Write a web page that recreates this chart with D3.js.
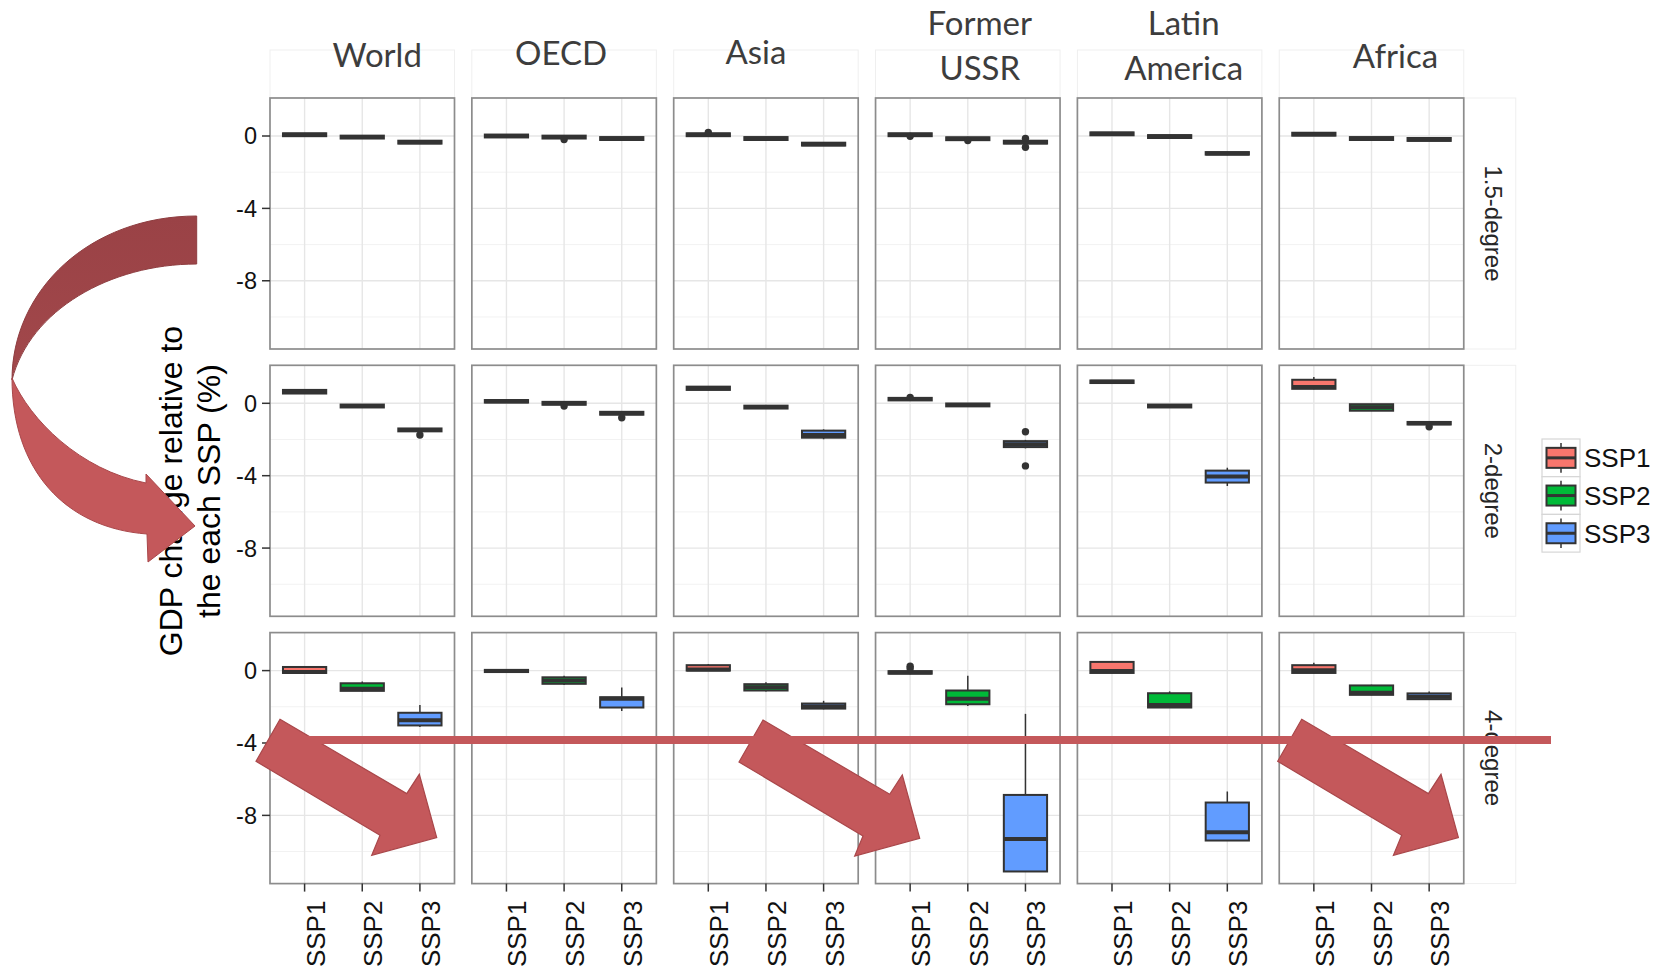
<!DOCTYPE html>
<html>
<head>
<meta charset="utf-8">
<script src="https://cdn.jsdelivr.net/npm/d3@7"></script>
<style>
  html, body { margin: 0; padding: 0; background: #ffffff; }
  svg { display: block; }
</style>
</head>
<body>
<svg id="chart" width="1656" height="971"></svg>
<script>
// ---------------- data ----------------
const regions = ["World", "OECD", "Asia", "Former USSR", "Latin America", "Africa"];
const regionLines = [["World"], ["OECD"], ["Asia"], ["Former", "USSR"], ["Latin", "America"], ["Africa"]];
const scenarios = ["1.5-degree", "2-degree", "4-degree"];
const ssps = ["SSP1", "SSP2", "SSP3"];
const yTicks = [0, -4, -8];
const yMinorTicks = [-2, -6, -10];
const sspColors = ["#F8766D", "#00BA38", "#619CFF"];

// GDP change (%) box summaries: [lower whisker, Q1, median, Q3, upper whisker]
// one row per region, one entry per SSP
const box15 = [
  [[-0.02, -0.01, 0.07, 0.15, 0.16], [-0.16, -0.14, -0.06, 0.02, 0.03], [-0.44, -0.42, -0.34, -0.26, -0.25]],
  [[-0.09, -0.08, 0.00, 0.08, 0.09], [-0.16, -0.14, -0.06, 0.02, 0.03], [-0.24, -0.22, -0.14, -0.06, -0.05]],
  [[-0.03, -0.01, 0.07, 0.15, 0.16], [-0.24, -0.22, -0.14, -0.06, -0.05], [-0.55, -0.53, -0.45, -0.37, -0.36]],
  [[-0.03, -0.01, 0.07, 0.15, 0.16], [-0.25, -0.23, -0.15, -0.07, -0.06], [-0.44, -0.42, -0.34, -0.26, -0.25]],
  [[0.03, 0.04, 0.12, 0.20, 0.21], [-0.12, -0.11, -0.03, 0.05, 0.06], [-1.06, -1.03, -0.97, -0.89, -0.88]],
  [[0.01, 0.02, 0.10, 0.18, 0.19], [-0.23, -0.22, -0.14, -0.06, -0.05], [-0.28, -0.27, -0.19, -0.11, -0.10]]
];
const box2 = [
  [[0.52, 0.54, 0.64, 0.74, 0.76], [-0.24, -0.23, -0.15, -0.07, -0.06], [-1.56, -1.55, -1.47, -1.39, -1.38]],
  [[0.03, 0.04, 0.11, 0.18, 0.19], [-0.09, -0.08, 0.00, 0.08, 0.09], [-0.64, -0.63, -0.55, -0.47, -0.46]],
  [[0.73, 0.74, 0.83, 0.92, 0.93], [-0.30, -0.29, -0.21, -0.13, -0.12], [-1.99, -1.90, -1.75, -1.51, -1.44]],
  [[0.15, 0.16, 0.24, 0.30, 0.31], [-0.18, -0.17, -0.09, -0.01, 0.00], [-2.49, -2.42, -2.26, -2.09, -2.02]],
  [[1.11, 1.12, 1.19, 1.26, 1.27], [-0.24, -0.23, -0.15, -0.07, -0.06], [-4.57, -4.38, -4.05, -3.72, -3.56]],
  [[0.78, 0.80, 0.90, 1.30, 1.45], [-0.43, -0.41, -0.22, -0.05, -0.04], [-1.18, -1.17, -1.10, -1.03, -1.02]]
];
const box4 = [
  [[-0.15, -0.13, -0.08, 0.20, 0.22], [-1.15, -1.12, -1.00, -0.70, -0.60], [-3.12, -3.03, -2.75, -2.33, -1.90]],
  [[-0.10, -0.08, -0.02, 0.04, 0.06], [-0.79, -0.73, -0.55, -0.37, -0.28], [-2.23, -2.04, -1.55, -1.47, -0.94]],
  [[-0.02, 0.00, 0.06, 0.30, 0.36], [-1.16, -1.10, -0.92, -0.75, -0.64], [-2.14, -2.10, -1.98, -1.82, -1.67]],
  [[-0.20, -0.17, -0.10, -0.03, 0.00], [-1.95, -1.86, -1.55, -1.10, -0.29], [-11.10, -11.10, -9.30, -6.87, -2.39]],
  [[-0.14, -0.13, -0.02, 0.48, 0.50], [-2.06, -2.04, -1.90, -1.25, -1.15], [-9.40, -9.39, -8.93, -7.29, -6.68]],
  [[-0.15, -0.13, 0.02, 0.30, 0.44], [-1.36, -1.34, -1.22, -0.82, -0.78], [-1.60, -1.58, -1.44, -1.26, -1.16]]
];
// outlying model results beyond the whiskers
const out15 = [
  [[], [], []],
  [[], [-0.20], []],
  [[0.20], [], []],
  [[-0.02], [-0.25], [-0.13, -0.62]],
  [[], [], []],
  [[], [], []]
];
const out2 = [
  [[], [], [-1.75]],
  [[], [-0.15], [-0.80]],
  [[], [], []],
  [[0.33], [], [-1.57, -3.46]],
  [[], [], []],
  [[], [], [-1.30]]
];
const out4 = [
  [[], [], []],
  [[], [], []],
  [[], [], []],
  [[0.24, 0.12], [], []],
  [[], [], []],
  [[], [], []]
];
const boxSets = [box15, box2, box4];
const outSets = [out15, out2, out4];

// ---------------- layout ----------------
const panelX0 = 270, colPitch = 201.85, panelW = 184.5;
const panelY0 = 98, rowPitch = 267.3, panelH = 251;
const yDomain = [-11.77, 2.1];
const stripLabelDx = [15, -3, -10, 12, 14, 24];
const stripBaselines = [[66.5], [65], [64], [35, 80], [35, 80], [68]];

const FONT_R = "'Liberation Sans', Arial, Helvetica, sans-serif";
const FONT_STRIP = "Lato, 'Open Sans', sans-serif";
const DARK = "#333333";

const svg = d3.select("#chart");

const y = d3.scaleLinear().domain(yDomain).range([panelH, 0]);
const x = d3.scalePoint().domain(ssps).range([0, panelW]).padding(0.6);
const boxW = x.step() * 0.75;

// top strips (region names)
regions.forEach((reg, c) => {
  const left = panelX0 + c * colPitch;
  svg.append("rect")
    .attr("x", left).attr("y", 50).attr("width", panelW).attr("height", 48)
    .attr("fill", "none").attr("stroke", "#efefef").attr("stroke-width", 1);
  const t = svg.append("text")
    .attr("font-family", FONT_STRIP).attr("font-size", 33).attr("fill", "#3d3d3d")
    .attr("text-anchor", "middle");
  regionLines[c].forEach((ln, i) => {
    t.append("tspan")
      .attr("x", left + panelW / 2 + stripLabelDx[c])
      .attr("y", stripBaselines[c][i])
      .text(ln);
  });
});

// right strips (warming levels)
scenarios.forEach((sc, r) => {
  const top = panelY0 + r * rowPitch;
  const sx = panelX0 + 5 * colPitch + panelW;
  svg.append("rect")
    .attr("x", sx).attr("y", top).attr("width", 52).attr("height", panelH)
    .attr("fill", "none").attr("stroke", "#efefef").attr("stroke-width", 1);
  svg.append("text")
    .attr("transform", `translate(${sx + 21},${top + panelH / 2}) rotate(90)`)
    .attr("text-anchor", "middle")
    .attr("font-family", FONT_R).attr("font-size", 24).attr("fill", "#262626")
    .text(sc);
});

// panels
scenarios.forEach((sc, r) => {
  regions.forEach((reg, c) => {
    const g = svg.append("g")
      .attr("transform", `translate(${panelX0 + c * colPitch},${panelY0 + r * rowPitch})`);
    g.append("rect").attr("width", panelW).attr("height", panelH).attr("fill", "#ffffff");

    // grid
    g.selectAll(".gminor").data(yMinorTicks).join("line")
      .attr("x1", 0).attr("x2", panelW)
      .attr("y1", d => y(d)).attr("y2", d => y(d))
      .attr("stroke", "#f2f2f2").attr("stroke-width", 1);
    g.selectAll(".gmajor").data(yTicks).join("line")
      .attr("x1", 0).attr("x2", panelW)
      .attr("y1", d => y(d)).attr("y2", d => y(d))
      .attr("stroke", "#e6e6e6").attr("stroke-width", 1.4);
    g.selectAll(".gx").data(ssps).join("line")
      .attr("x1", d => x(d)).attr("x2", d => x(d))
      .attr("y1", 0).attr("y2", panelH)
      .attr("stroke", "#e6e6e6").attr("stroke-width", 1.4);

    // boxplots
    const stats = boxSets[r][c];
    const outs = outSets[r][c];
    ssps.forEach((s, k) => {
      const [lo, q1, med, q3, hi] = stats[k];
      const cx = x(s);
      g.append("line")
        .attr("x1", cx).attr("x2", cx).attr("y1", y(hi)).attr("y2", y(lo))
        .attr("stroke", DARK).attr("stroke-width", 1.5);
      g.append("rect")
        .attr("x", cx - boxW / 2).attr("width", boxW)
        .attr("y", y(q3)).attr("height", Math.max(0.5, y(q1) - y(q3)))
        .attr("fill", sspColors[k]).attr("stroke", DARK).attr("stroke-width", 2);
      g.append("line")
        .attr("x1", cx - boxW / 2).attr("x2", cx + boxW / 2)
        .attr("y1", y(med)).attr("y2", y(med))
        .attr("stroke", DARK).attr("stroke-width", 4);
      g.selectAll(null).data(outs[k]).join("circle")
        .attr("cx", cx).attr("cy", d => y(d)).attr("r", 3.7)
        .attr("fill", DARK);
    });

    // panel border
    g.append("rect").attr("width", panelW).attr("height", panelH)
      .attr("fill", "none").attr("stroke", "#8c8c8c").attr("stroke-width", 1.7);

    // y axis on first column
    if (c === 0) {
      g.selectAll(".yt").data(yTicks).join("line")
        .attr("x1", -8).attr("x2", 0)
        .attr("y1", d => y(d)).attr("y2", d => y(d))
        .attr("stroke", DARK).attr("stroke-width", 1.5);
      g.selectAll(".yl").data(yTicks).join("text")
        .attr("x", -13).attr("y", d => y(d)).attr("dy", "0.36em")
        .attr("text-anchor", "end")
        .attr("font-family", FONT_R).attr("font-size", 23.5).attr("fill", "#111111")
        .text(d => String(d));
    }
    // x axis on bottom row
    if (r === scenarios.length - 1) {
      g.selectAll(".xt").data(ssps).join("line")
        .attr("x1", d => x(d)).attr("x2", d => x(d))
        .attr("y1", panelH).attr("y2", panelH + 8)
        .attr("stroke", DARK).attr("stroke-width", 1.5);
      g.selectAll(".xl").data(ssps).join("text")
        .attr("transform", d => `translate(${x(d) + 20},${panelH + 17}) rotate(-90)`)
        .attr("text-anchor", "end")
        .attr("font-family", FONT_R).attr("font-size", 26).attr("fill", "#111111")
        .text(d => d);
    }
  });
});

// y axis title
const yTitle = ["GDP change relative to", "the each SSP (%)"];
yTitle.forEach((ln, i) => {
  svg.append("text")
    .attr("transform", `translate(${182 + i * 38},491) rotate(-90)`)
    .attr("text-anchor", "middle")
    .attr("font-family", FONT_R).attr("font-size", 32).attr("fill", "#000000")
    .text(ln);
});

// legend
const legX = 1542, legY = 439, keyW = 38, keyH = 37.7;
ssps.forEach((s, k) => {
  const ky = legY + k * keyH;
  const lg = svg.append("g").attr("transform", `translate(${legX},${ky})`);
  lg.append("rect").attr("width", keyW).attr("height", keyH)
    .attr("fill", "#ffffff").attr("stroke", "#d6d6d6").attr("stroke-width", 1.2);
  lg.append("line").attr("x1", keyW / 2).attr("x2", keyW / 2)
    .attr("y1", 4).attr("y2", keyH - 4)
    .attr("stroke", DARK).attr("stroke-width", 1.5);
  lg.append("rect").attr("x", 4.5).attr("y", keyH / 2 - 10)
    .attr("width", keyW - 9).attr("height", 20)
    .attr("fill", sspColors[k]).attr("stroke", DARK).attr("stroke-width", 2);
  lg.append("line").attr("x1", 4.5).attr("x2", keyW - 4.5)
    .attr("y1", keyH / 2).attr("y2", keyH / 2)
    .attr("stroke", DARK).attr("stroke-width", 3);
  svg.append("text")
    .attr("x", legX + keyW + 4).attr("y", ky + keyH / 2).attr("dy", "0.36em")
    .attr("font-family", FONT_R).attr("font-size", 26).attr("fill", "#111111")
    .text(s);
});

// ---------------- annotations ----------------
const ARROW_FILL = "#c4585b";
const ARROW_EDGE = "#a9474a";
const defs = svg.append("defs");
const grad = defs.append("linearGradient").attr("id", "backGrad")
  .attr("x1", 0).attr("y1", 0).attr("x2", 0).attr("y2", 1);
grad.append("stop").attr("offset", "0%").attr("stop-color", "#9a4246");
grad.append("stop").attr("offset", "100%").attr("stop-color", "#a2484b");

// curved arrow on the left: back (upper) band and front band with head
svg.append("path")
  .attr("d", "M196.7,216 C90,216 12,290 12,380 C30,310 110,264 196.7,264 Z")
  .attr("fill", "url(#backGrad)").attr("stroke", "#8e3d40").attr("stroke-width", 1);
svg.append("path")
  .attr("d", "M12,378 C30,420 80,470 146,483 L146,474 L195,526 L148,562 L147,534 C65,528 12,470 12,378 Z")
  .attr("fill", ARROW_FILL).attr("stroke", ARROW_EDGE).attr("stroke-width", 1);

// straight arrows pointing down-right
const arrowShape = [[0, 0], [126.7, 74.3], [139.3, 55], [156.7, 118.3], [91.7, 136], [100, 116], [-24, 42]];
const arrowOrigins = [[280, 719.3], [763, 720], [1301.7, 719.3]];
arrowOrigins.forEach(([ox, oy]) => {
  svg.append("polygon")
    .attr("points", arrowShape.map(([dx, dy]) => `${ox + dx},${oy + dy}`).join(" "))
    .attr("fill", ARROW_FILL).attr("stroke", ARROW_EDGE).attr("stroke-width", 1.2)
    .attr("stroke-linejoin", "miter");
});

// horizontal threshold line across the 4-degree row
svg.append("line")
  .attr("x1", 276).attr("x2", 1551).attr("y1", 740).attr("y2", 740)
  .attr("stroke", ARROW_FILL).attr("stroke-width", 8);
</script>
</body>
</html>
